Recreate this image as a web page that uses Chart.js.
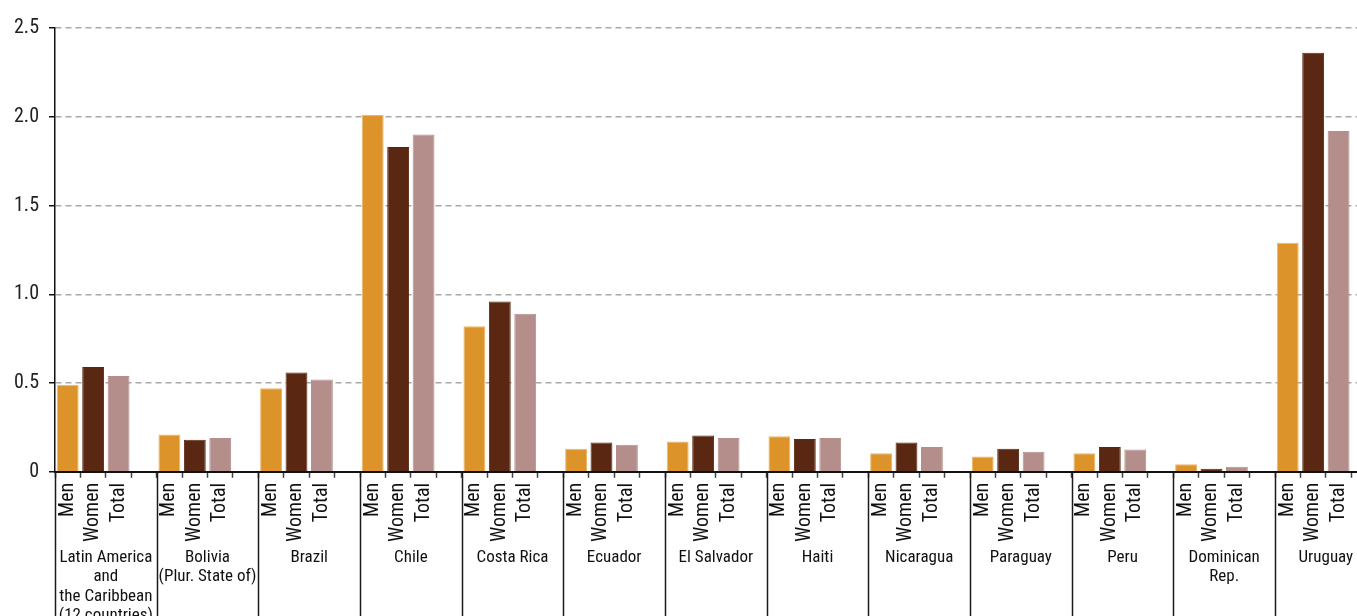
<!DOCTYPE html>
<html>
<head>
<meta charset="utf-8">
<script src="https://cdn.jsdelivr.net/npm/chart.js@4/dist/chart.umd.min.js"></script>
<style>
  html, body { margin: 0; padding: 0; background: #fff; overflow: hidden; }
  #wrap { position: relative; width: 1393px; height: 623px; }
</style>
</head>
<body>
<div id="wrap"><canvas id="c"></canvas></div>
<script>
const groups = [
  ["Latin America", "and", "the Caribbean", "(12 countries)"],
  ["Bolivia", "(Plur. State of)"],
  "Brazil", "Chile", "Costa Rica", "Ecuador", "El Salvador", "Haiti",
  "Nicaragua", "Paraguay", "Peru", ["Dominican", "Rep."], "Uruguay"
];
const seriesNames = ["Men", "Women", "Total"];
const men   = [0.49, 0.21, 0.47, 2.01, 0.82, 0.13, 0.17, 0.20, 0.105, 0.086, 0.105, 0.042, 1.29];
const women = [0.59, 0.18, 0.56, 1.83, 0.96, 0.165, 0.205, 0.185, 0.165, 0.13, 0.14, 0.017, 2.36];
const total = [0.54, 0.19, 0.52, 1.90, 0.89, 0.152, 0.19, 0.19, 0.14, 0.113, 0.125, 0.028, 1.92];
const yTicks = [0, 0.5, 1.0, 1.5, 2.0, 2.5];

const colors = ["#DC9329", "#5A2812", "#B48E8B"];
const FONT = '"Roboto Condensed", "Liberation Sans Narrow", sans-serif';

const slotLabels = [], slotValues = [], slotColors = [], slotBorders = [];
const seriesData = [men, women, total];
groups.forEach((g, i) => {
  for (let s = 0; s < 3; s++) {
    slotLabels.push(seriesNames[s]);
    slotValues.push(seriesData[s][i]);
    slotColors.push(colors[s]);
    slotBorders.push(s === 0 ? "#EDB56A" : colors[s]);
  }
  slotLabels.push("");
  slotValues.push(null);
  slotColors.push("rgba(0,0,0,0)");
  slotBorders.push("rgba(0,0,0,0)");
});

const separators = {
  id: "separators",
  afterDraw(chart) {
    const x2 = chart.scales.x2;
    const ctx = chart.ctx;
    const top = chart.chartArea.bottom;
    ctx.save();
    ctx.strokeStyle = "#1a1a1a";
    ctx.lineWidth = 1.5;
    for (let g = 0; g <= groups.length; g++) {
      const px = Math.round(x2.getPixelForValue(g - 0.5)) + 0.5;
      ctx.beginPath();
      ctx.moveTo(px, top);
      ctx.lineTo(px, chart.height);
      ctx.stroke();
    }
    ctx.restore();
  }
};

new Chart(document.getElementById("c"), {
  type: "bar",
  data: {
    labels: slotLabels,
    datasets: [{
      data: slotValues,
      backgroundColor: slotColors,
      borderColor: slotBorders,
      borderWidth: 1,
      barPercentage: 0.86,
      categoryPercentage: 1.0
    }]
  },
  options: {
    responsive: true,
    maintainAspectRatio: false,
    animation: false,
    layout: { padding: { top: 28, left: 4, right: 0, bottom: 0 } },
    plugins: { legend: { display: false }, tooltip: { enabled: false } },
    scales: {
      x: {
        type: "category",
        position: "bottom",
        weight: 0,
        offset: true,
        afterFit(scale) { scale.height = 71; },
        grid: { offset: true, drawOnChartArea: false, tickLength: 6, tickColor: "#444", tickWidth: 1.5 },
        border: { display: true, color: "#111", width: 2 },
        ticks: {
          autoSkip: false, maxRotation: 90, minRotation: 90, padding: 5,
          color: "#111", font: { family: FONT, size: 20 }
        }
      },
      x2: {
        type: "category",
        position: "bottom",
        weight: 1,
        offset: true,
        labels: groups,
        grid: { display: false },
        border: { display: false },
        ticks: {
          autoSkip: false, maxRotation: 0, minRotation: 0, padding: -3,
          color: "#111", font: { family: FONT, size: 17, lineHeight: 1.15 }
        }
      },
      y: {
        min: 0, max: 2.5,
        afterBuildTicks(scale) { scale.ticks = yTicks.map(v => ({ value: v })); },
        grid: {
          color: ctx => ctx.tick && ctx.tick.value === 0 ? "rgba(0,0,0,0)" : "#a8a8a8",
          lineWidth: 1.5, tickLength: 6, tickColor: "#111", tickWidth: 1.5
        },
        border: { display: true, color: "#111", width: 1.5, dash: [6, 4] },
        ticks: {
          padding: 10, color: "#222", font: { family: FONT, size: 20 },
          callback: v => v === 0 ? "0" : Number(v).toFixed(1)
        }
      }
    }
  },
  plugins: [separators]
});
</script>
</body>
</html>
